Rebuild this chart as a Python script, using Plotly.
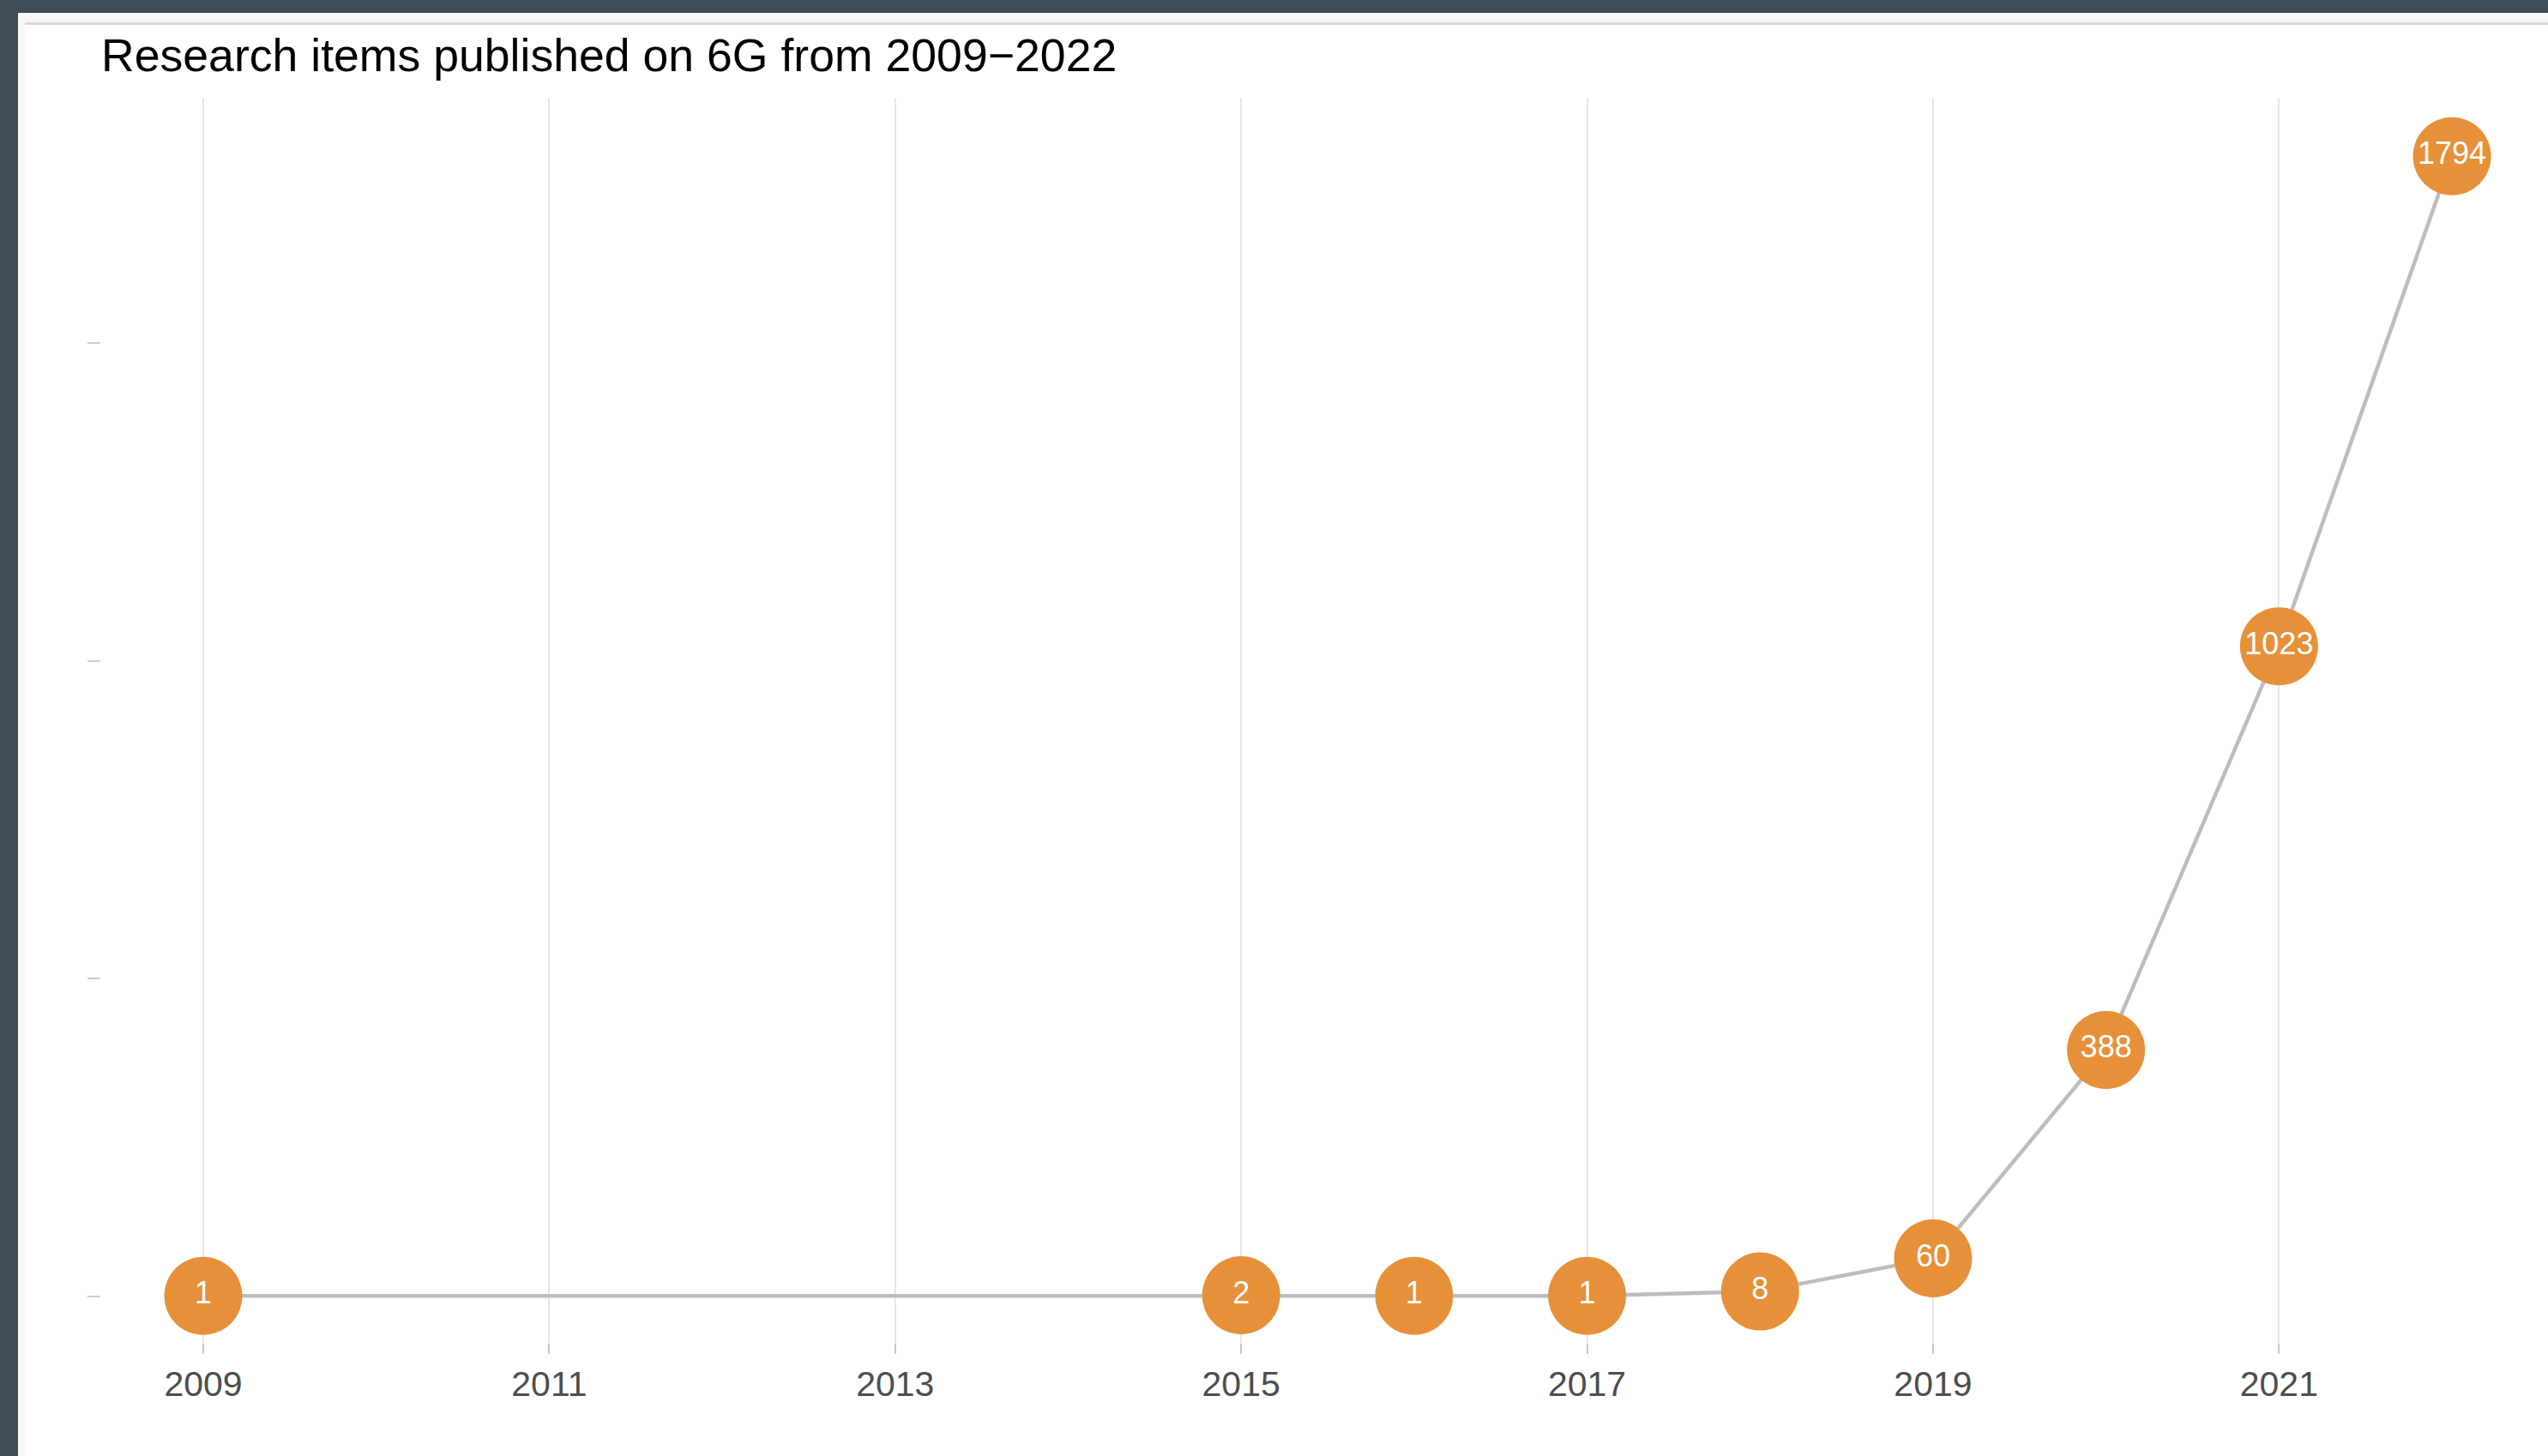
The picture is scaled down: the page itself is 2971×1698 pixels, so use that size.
import plotly.graph_objects as go

# ---- data ----
years = [2009, 2015, 2016, 2017, 2018, 2019, 2020, 2021, 2022]
items = [1, 2, 1, 1, 8, 60, 388, 1023, 1794]
x_ticks = [2009, 2011, 2013, 2015, 2017, 2019, 2021]
y_ticks = [0, 500, 1000, 1500]
title_text = "Research items published on 6G from 2009\u22122022"

W, H = 2971, 1698
L, R, T, B = 118, 0, 114, 132
pw, ph = W - L - R, H - T - B

def px_x(p):
    return (p - L) / pw

def px_y(p):
    return (H - B - p) / ph

FONT = "Arial, Liberation Sans, sans-serif"

fig = go.Figure()
fig.add_trace(go.Scatter(
    x=years, y=items,
    mode="lines+markers+text",
    text=[str(v) for v in items],
    textposition="middle center",
    textfont=dict(family=FONT, size=36, color="white"),
    line=dict(color="#bdbdbd", width=4.5),
    marker=dict(size=91, color="#E6913A", line=dict(width=0)),
    cliponaxis=False,
    hoverinfo="x+y",
    showlegend=False,
))

shapes = [
    # dark frame
    dict(type="rect", xref="paper", yref="paper", x0=px_x(0), x1=px_x(W), y0=px_y(15), y1=px_y(-5),
         fillcolor="#3e4c56", line=dict(width=0), layer="below"),
    dict(type="rect", xref="paper", yref="paper", x0=px_x(-5), x1=px_x(21), y0=px_y(H + 5), y1=px_y(0),
         fillcolor="#3e4c56", line=dict(width=0), layer="below"),
    # light strip
    dict(type="rect", xref="paper", yref="paper", x0=px_x(21), x1=px_x(W), y0=px_y(26), y1=px_y(15),
         fillcolor="#f7f7f7", line=dict(width=0), layer="below"),
    dict(type="rect", xref="paper", yref="paper", x0=px_x(21), x1=px_x(29), y0=px_y(H + 5), y1=px_y(26),
         fillcolor="#f7f7f7", line=dict(width=0), layer="below"),
    # thin gray rule
    dict(type="rect", xref="paper", yref="paper", x0=px_x(29), x1=px_x(W), y0=px_y(29), y1=px_y(26),
         fillcolor="#d9d9d9", line=dict(width=0), layer="below"),
]

fig.update_layout(
    width=W, height=H,
    margin=dict(l=L, r=R, t=T, b=B, pad=0),
    paper_bgcolor="white",
    plot_bgcolor="white",
    shapes=shapes,
    font=dict(family=FONT),
    title=dict(
        text=title_text,
        x=118 / W, xanchor="left", xref="container",
        y=1 - 64 / H, yanchor="middle", yref="container",
        font=dict(family=FONT, size=53.6, color="#000000"),
    ),
    xaxis=dict(
        range=[2008.41, 2022.555],
        tickmode="array", tickvals=x_ticks, ticktext=[str(v) for v in x_ticks],
        showgrid=True, gridcolor="#e6e6e6", gridwidth=1.5,
        ticks="outside", ticklen=12, tickwidth=2, tickcolor="#c8c8c8",
        tickfont=dict(family=FONT, size=41, color="#4d4d4d"),
        showline=False, zeroline=False,
    ),
    yaxis=dict(
        range=[-72.8, 1886],
        tickmode="array", tickvals=y_ticks,
        showticklabels=False, showgrid=False, zeroline=False, showline=False,
        ticks="outside", ticklen=15, tickwidth=2, tickcolor="#cccccc",
    ),
)

fig.write_html("out.html")
